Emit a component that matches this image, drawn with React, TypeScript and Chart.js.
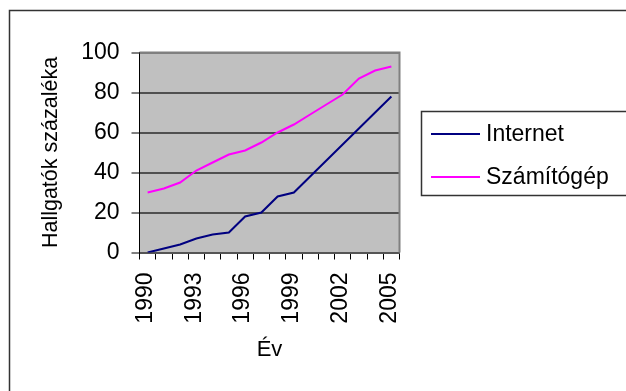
import React, { useEffect, useRef } from 'react';
import { Chart, registerables } from 'chart.js';

Chart.register(...registerables);

const years = ['1990', '1991', '1992', '1993', '1994', '1995', '1996', '1997', '1998', '1999', '2000', '2001', '2002', '2003', '2004', '2005'];
const internet = [0, 2, 4, 7, 9, 10, 18, 20, 28, 30, 38, 46, 54, 62, 70, 78];
const szamitogep = [30, 32, 35, 41, 45, 49, 51, 55, 60, 64, 69, 74, 79, 87, 91, 93];
const shownYearLabels = ['1990', '1993', '1996', '1999', '2002', '2005'];
const seriesNames = ['Internet', 'Számítógép'];
const xTitle = 'Év';
const yTitle = 'Hallgatók százaléka';

const FONT = "'Liberation Sans', Arial, sans-serif";

const decorPlugin = {
  id: 'decor',
  beforeDraw(chart: any) {
    const { ctx, chartArea } = chart;
    ctx.save();
    ctx.fillStyle = '#ffffff';
    ctx.fillRect(0, 0, chart.width, chart.height);
    ctx.strokeStyle = '#333333';
    ctx.lineWidth = 1.5;
    ctx.strokeRect(9.5, 10.5, 700, 500);
    ctx.fillStyle = '#c0c0c0';
    ctx.fillRect(chartArea.left, chartArea.top, chartArea.right - chartArea.left, chartArea.bottom - chartArea.top);
    ctx.restore();
  },
  afterDraw(chart: any) {
    const { ctx, chartArea } = chart;
    ctx.save();
    ctx.strokeStyle = '#808080';
    ctx.lineWidth = 2;
    ctx.beginPath();
    ctx.moveTo(chartArea.left, chartArea.top);
    ctx.lineTo(chartArea.right, chartArea.top);
    ctx.lineTo(chartArea.right, chartArea.bottom);
    ctx.stroke();
    const bx = 421.5, by = 111.5;
    ctx.strokeStyle = '#333333';
    ctx.lineWidth = 1.5;
    ctx.strokeRect(bx, by, 240, 84);
    chart.data.datasets.forEach((ds: any, i: number) => {
      const y = 134 + i * 43;
      ctx.strokeStyle = ds.borderColor;
      ctx.lineWidth = 2;
      ctx.beginPath();
      ctx.moveTo(431, y);
      ctx.lineTo(480, y);
      ctx.stroke();
      ctx.fillStyle = '#000000';
      ctx.font = `23px ${FONT}`;
      ctx.textBaseline = 'middle';
      ctx.textAlign = 'left';
      ctx.fillText(ds.label, 486, y + 1);
    });
    ctx.restore();
  },
};

export default function App() {
  const ref = useRef<HTMLCanvasElement>(null);

  useEffect(() => {
    if (!ref.current) return;
    const chart = new Chart(ref.current, {
      type: 'line',
      data: {
        labels: years,
        datasets: [
          {
            label: seriesNames[0],
            data: internet,
            borderColor: '#000080',
            backgroundColor: '#000080',
            borderWidth: 2,
            pointRadius: 0,
            tension: 0,
          },
          {
            label: seriesNames[1],
            data: szamitogep,
            borderColor: '#ff00ff',
            backgroundColor: '#ff00ff',
            borderWidth: 2,
            pointRadius: 0,
            tension: 0,
          },
        ],
      },
      options: {
        responsive: false,
        animation: false,
        devicePixelRatio: 1,
        layout: { padding: { left: 38, right: 226.5, top: 52.5, bottom: 28 } },
        plugins: {
          legend: { display: false },
          tooltip: { enabled: false },
        },
        scales: {
          x: {
            type: 'category',
            offset: true,
            afterFit(scale: any) {
              scale.height = 110.5;
            },
            grid: {
              display: true,
              offset: true,
              drawOnChartArea: false,
              drawTicks: true,
              tickLength: 7,
              tickColor: '#000000',
              tickWidth: 1,
            },
            border: { display: true, color: '#555555', width: 2 },
            ticks: {
              autoSkip: false,
              minRotation: 90,
              maxRotation: 90,
              padding: 13,
              labelOffset: -2,
              color: '#000000',
              font: { family: FONT, size: 23 },
              callback(value: any) {
                const lab = years[value as number];
                return shownYearLabels.includes(lab) ? lab : '';
              },
            },
            title: {
              display: true,
              text: xTitle,
              color: '#000000',
              font: { family: FONT, size: 22 },
              padding: 0,
            },
          },
          y: {
            min: 0,
            max: 100,
            afterFit(scale: any) {
              scale.width = 101.5;
            },
            ticks: {
              stepSize: 20,
              padding: 12,
              color: '#000000',
              font: { family: FONT, size: 23 },
            },
            grid: {
              color: (c: any) => (c.tick && c.tick.value === 100 ? '#808080' : '#505050'),
              lineWidth: 2,
              drawTicks: true,
              tickLength: 8,
              tickColor: '#000000',
              tickWidth: 1,
            },
            border: { display: true, color: '#000000', width: 1 },
            title: {
              display: true,
              text: yTitle,
              color: '#000000',
              font: { family: FONT, size: 21.5 },
              padding: 0,
            },
          },
        },
      },
      plugins: [decorPlugin],
    });
    return () => chart.destroy();
  }, []);

  return (
    <div style={{ position: 'fixed', left: 0, top: 0, width: 626, height: 391, overflow: 'hidden', background: '#fff' }}>
      <canvas ref={ref} width={626} height={391} style={{ display: 'block' }} />
    </div>
  );
}
